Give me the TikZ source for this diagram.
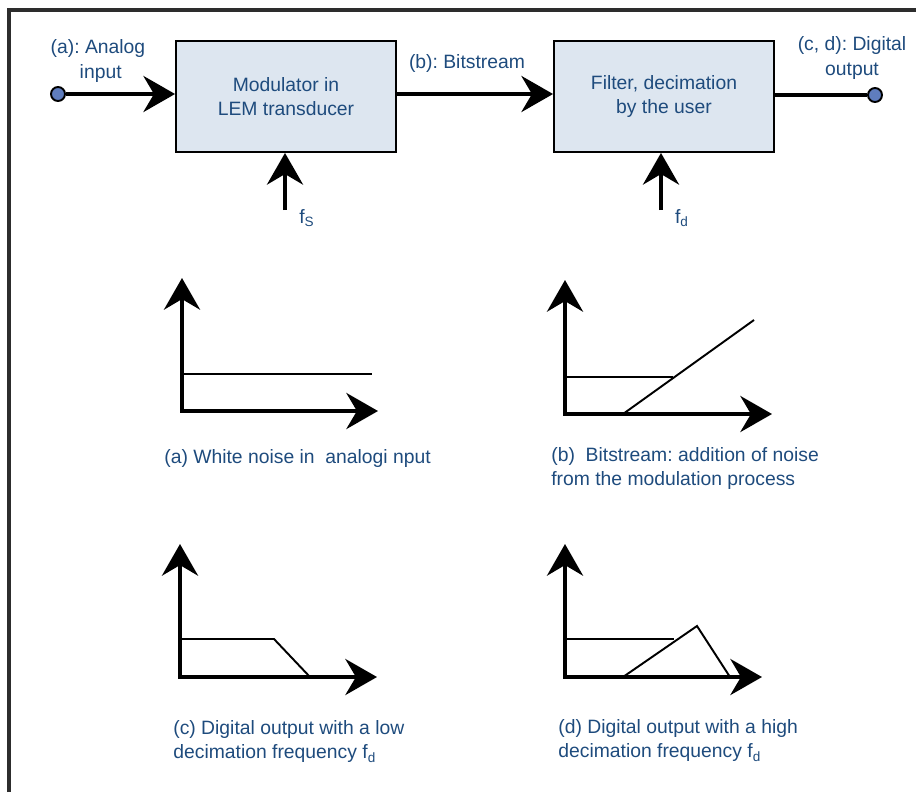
\documentclass[tikz,border=0pt]{standalone}
\usepackage{fontspec}
\setmainfont{Liberation Sans}
\usetikzlibrary{arrows.meta}
\definecolor{txtblue}{RGB}{30,75,125}
\definecolor{boxfill}{RGB}{221,230,240}
\definecolor{dotblue}{RGB}{95,125,190}
\definecolor{framegray}{RGB}{45,45,45}
\frenchspacing
\begin{document}
\begin{tikzpicture}[x=0.02cm,y=-0.02cm,
  bigtip/.tip={Stealth[length=18pt,width=20.5pt,inset=6pt]},
  bigarrow/.style={-bigtip, line width=2.4pt},
  axes/.style={bigtip-bigtip, line width=2.4pt},
  curve/.style={line width=1.1pt},
  blockbox/.style={draw, line width=1.1pt, fill=boxfill, minimum width=4.4cm, minimum height=2.22cm, align=center, text=txtblue},
  port/.style={circle, draw, line width=1.1pt, fill=dotblue, minimum size=0.28cm, inner sep=0pt},
  lbl/.style={text=txtblue, align=center, inner sep=0pt},
  caption/.style={text=txtblue, align=left, anchor=north west, inner sep=0pt}]
\useasboundingbox (0,0) rectangle (916,792);
\fontsize{11}{14}\selectfont
% frame
\draw[line width=2.3pt, framegray] (9,792) -- (9,10) -- (916,10);
% block chain
\node[blockbox] (mod) at (286,96.5) {Modulator in\\LEM transducer};
\node[blockbox] (filt) at (664,96.5) {Filter, decimation\\by the user};
\node[port] (in) at (58,94) {};
\node[port] (out) at (875,95) {};
\draw[bigarrow] (in) -- (in -| mod.west);
\draw[bigarrow] (mod.east |- in) -- (filt.west |- in);
\draw[line width=2.4pt] (filt.east |- out) -- (out);
\coordinate (fsfoot) at (285,210);
\coordinate (fdfoot) at (661,210);
\draw[bigarrow] (fsfoot) -- (fsfoot |- mod.south);
\draw[bigarrow] (fdfoot) -- (fdfoot |- filt.south);
\node[lbl] (fs) at (307,218) {f\textsubscript{S}};
\node[lbl] (fd) at (682,218) {f\textsubscript{d}};
\node[lbl] (inlbl) at (98,61) {(a): Analog\\\ input};
\node[lbl] (bslbl) at (467,63) {(b): Bitstream};
\node[lbl] (outlbl) at (852,58) {(c, d): Digital\\output};
% (a) white noise
\begin{scope}[shift={(182,411)}]
\draw[axes] (0,-133) |- (196,0);
\draw[curve] (0,-37) -- (190,-37);
\end{scope}
\node[caption] (capa) at (164,449) {(a) White noise in\ \ analogi nput};
% (b) bitstream
\begin{scope}[shift={(565,414)}]
\draw[axes] (0,-134) |- (207,0);
\draw[curve] (0,-37) -- (108,-37);
\draw[curve] (58,0) -- (189,-94);
\end{scope}
\node[caption] (capb) at (551,447) {(b)\ \ Bitstream: addition of noise\\from the modulation process};
% (c) low decimation frequency
\begin{scope}[shift={(180,677)}]
\draw[axes] (0,-133) |- (197,0);
\draw[curve] (0,-38) -- (94,-38) -- (130,0);
\end{scope}
\node[caption] (capc) at (173,720) {(c) Digital output with a low\\decimation frequency f\textsubscript{d}};
% (d) high decimation frequency
\begin{scope}[shift={(565,677)}]
\draw[axes] (0,-133) |- (197,0);
\draw[curve] (0,-38) -- (109,-38);
\draw[curve] (58,0) -- (132,-51) -- (165,0);
\end{scope}
\node[caption] (capd) at (558,719) {(d) Digital output with a high\\decimation frequency f\textsubscript{d}};
\end{tikzpicture}
\end{document}
